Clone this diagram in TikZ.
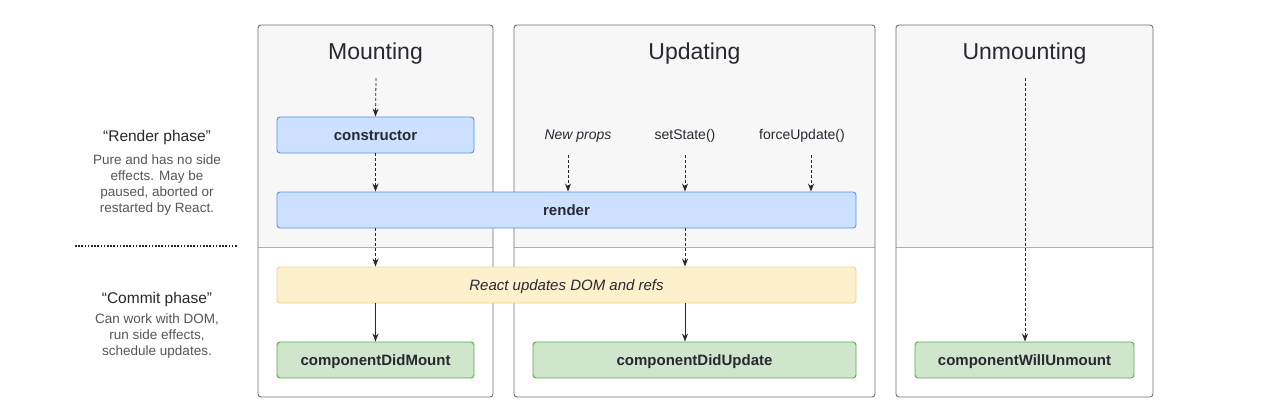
\documentclass[tikz,border=0pt]{standalone}
\usepackage{fontspec}
\setmainfont{Liberation Sans}
\usepackage{tikz}
\usetikzlibrary{arrows.meta,positioning}
\definecolor{ink}{RGB}{40,40,48}
\definecolor{note}{RGB}{85,85,90}
\definecolor{panelline}{RGB}{110,110,115}
\definecolor{panelfill}{RGB}{247,247,247}
\definecolor{divline}{RGB}{175,175,178}
\definecolor{bluefill}{RGB}{204,224,255}
\definecolor{blueline}{RGB}{80,150,240}
\definecolor{yellowfill}{RGB}{253,240,204}
\definecolor{yellowline}{RGB}{242,212,140}
\definecolor{greenfill}{RGB}{208,230,204}
\definecolor{greenline}{RGB}{88,168,78}
\tikzstyle{title}=[text=ink,font=\fontsize{23}{27}\selectfont]
\tikzstyle{method}=[draw,rounded corners=3,line width=0.9pt,minimum height=36pt,inner sep=0pt,text height=11pt,text depth=1pt,text=ink,font=\fontsize{15}{18}\selectfont\bfseries]
\tikzstyle{renderbox}=[method,fill=bluefill,draw=blueline]
\tikzstyle{commitbox}=[method,fill=yellowfill,draw=yellowline,font=\fontsize{15}{18}\selectfont\itshape]
\tikzstyle{donebox}=[method,fill=greenfill,draw=greenline]
\tikzstyle{trigger}=[text=ink,font=\fontsize{14}{17}\selectfont]
\tikzstyle{phase}=[text=ink,font=\fontsize{15.5}{19}\selectfont]
\tikzstyle{phasenote}=[text=note,align=center,font=\fontsize{13.5}{16}\selectfont]
\tikzstyle{dasharrow}=[draw=ink,line width=0.8pt,dash pattern=on 3pt off 2pt,-{Stealth[length=8pt,width=6pt]}]
\tikzstyle{flowarrow}=[draw=ink,line width=0.8pt,-{Stealth[length=8pt,width=6pt]}]

\begin{document}
\begin{tikzpicture}[x=1pt,y=-1pt]
    \useasboundingbox (0,0) rectangle (1274,417);
    % panels: grey render part on top, white commit part below
    \foreach \xa/\xb/\name/\label in {258/493/mount/Mounting, 514/875/update/Updating, 896/1153/unmount/Unmounting}{
        \fill[panelfill] (\xa,247) [rounded corners=3] -- (\xa,25) -- (\xb,25) [sharp corners] -- (\xb,247) -- cycle;
        \draw[divline,line width=0.8pt] (\xa,247) -- (\xb,247);
        \draw[panelline,line width=0.9pt,rounded corners=3] (\xa,25) rectangle (\xb,397);
        \node[title] (\name-title) at ({(\xa+\xb)/2},54) {\label};
    }

    % phase notes on the left
    \node[phase] (render-phase) at (157,137) {“Render phase”};
    \node[phasenote] (render-note) at (157,185) {Pure and has no side\\effects. May be\\paused, aborted or\\restarted by React.};
    \node[phase] (commit-phase) at (157,299) {“Commit phase”};
    \node[phasenote] (commit-note) at (157,336) {Can work with DOM,\\run side effects,\\schedule updates.};
    \coordinate (sep-left) at (75,246);
    \coordinate (sep-right) at (238,246);
    \draw[ink,line width=1.6pt,dash pattern=on 1.6pt off 1.6pt] (sep-left) -- (sep-right);

    % lifecycle methods
    \node[renderbox,minimum width=197pt] (constructor) at (375.5,135) {constructor};
    \node[renderbox,minimum width=579pt] (render) at (566.5,210) {render};
    \node[commitbox,minimum width=579pt] (dom) at (566.5,285) {React updates DOM and refs};
    \node[donebox,minimum width=197pt] (didmount) at (375.5,360) {componentDidMount};
    \node[donebox,minimum width=323pt] (didupdate) at (694.5,360) {componentDidUpdate};
    \node[donebox,minimum width=219pt] (willunmount) at (1024.5,360) {componentWillUnmount};

    % update triggers
    \node[trigger,font=\fontsize{14}{17}\selectfont\itshape] (props) at (578,136) {New props};
    \node[trigger] (setstate) at (685,136) {setState()};
    \node[trigger] (forceupdate) at (802,136) {forceUpdate()};

    \coordinate (mount-in) at (376,78);
    \coordinate (unmount-in) at (1025,78);
    \coordinate (props-out) at (568,155);
    \coordinate (setstate-out) at (685,155);
    \coordinate (force-out) at (811,155);

    \path[dasharrow] (mount-in) -- (constructor.north);
    \path[dasharrow] (constructor.south) -- (render.north -| constructor.south);
    \path[dasharrow] (render.south -| constructor.south) -- (dom.north -| constructor.south);
    \path[flowarrow] (dom.south -| didmount.north) -- (didmount.north);
    \foreach \src in {props-out, setstate-out, force-out}
        \path[dasharrow] (\src) -- (render.north -| \src);
    \path[dasharrow] (render.south -| setstate-out) -- (dom.north -| setstate-out);
    \path[flowarrow] (dom.south -| setstate-out) -- (didupdate.north -| setstate-out);
    \path[dasharrow] (unmount-in) -- (willunmount.north -| unmount-in);
\end{tikzpicture}
\end{document}
